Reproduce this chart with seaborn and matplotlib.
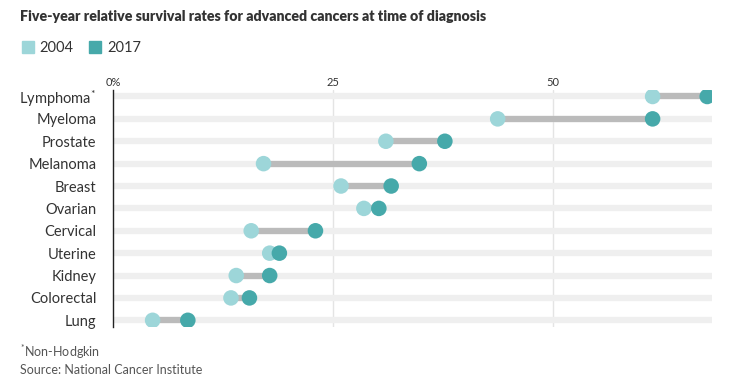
import pandas as pd
import matplotlib.pyplot as plt
import seaborn as sns
from matplotlib.lines import Line2D

# values (percent)
cancers = ['Lymphoma$^{*}$', 'Myeloma', 'Prostate', 'Melanoma', 'Breast', 'Ovarian',
           'Cervical', 'Uterine', 'Kidney', 'Colorectal', 'Lung']
rate_2004 = [61.3, 43.7, 31.0, 17.1, 25.9, 28.5, 15.7, 17.8, 14.0, 13.4, 4.5]
rate_2017 = [67.5, 61.3, 37.7, 34.8, 31.6, 30.2, 23.0, 18.9, 17.8, 15.5, 8.5]
years = ['2004', '2017']
xticks = [0, 25, 50]
xticklabels = ['0%', '25', '50']

c04 = '#9dd6d9'
c17 = '#46a9aa'
txt = '#333333'

df = pd.DataFrame({'cancer': cancers, '2004': rate_2004, '2017': rate_2017})
long = df.melt(id_vars='cancer', value_vars=years, var_name='year', value_name='rate')

sns.set_style('white')
plt.rcParams['font.family'] = ['Lato', 'DejaVu Sans']
plt.rcParams['mathtext.default'] = 'regular'

fig = plt.figure(figsize=(7.41, 3.87), dpi=100)
ax = fig.add_axes([0.1525, 0.155, 0.809, 0.613])

ypos = list(range(len(cancers)))
# background tracks
ax.hlines(ypos, 0, 68.1, color='#efefef', lw=4.5, zorder=1)
for t in xticks[1:]:
    ax.axvline(t, color='#e4e4e4', lw=1, zorder=0.5)
# connectors
ax.hlines(ypos, df['2004'], df['2017'], color='#bbbbbb', lw=4.5, zorder=2)

sns.scatterplot(data=long, x='rate', y='cancer', hue='year', hue_order=years,
                palette=[c04, c17], s=125, edgecolor='none', legend=False,
                zorder=3, ax=ax)

ax.set_xlim(0, 68.1)
ax.set_ylim(10.3, -0.3)
ax.set_xlabel('')
ax.set_ylabel('')
ax.xaxis.tick_top()
ax.set_xticks(xticks)
ax.set_xticklabels(xticklabels, fontsize=8, color=txt)
ax.tick_params(axis='x', length=0, pad=1.5)
ax.tick_params(axis='y', length=0, pad=12, labelsize=10.5, labelcolor=txt)
for s in ['top', 'right', 'bottom']:
    ax.spines[s].set_visible(False)
ax.spines['left'].set_color('#222222')
ax.spines['left'].set_linewidth(1)

fig.text(0.027, 0.957, 'Five-year relative survival rates for advanced cancers at time of diagnosis',
         fontsize=10.2, fontweight='heavy', color=txt, va='center')

handles = [Line2D([], [], marker='s', ls='', color=c, markersize=9) for c in [c04, c17]]
fig.legend(handles, years, loc='center left', bbox_to_anchor=(0.01, 0.875), ncol=2,
           frameon=False, fontsize=10.5, handletextpad=0.3, columnspacing=1.0,
           handlelength=1.0, labelcolor=txt)

fig.text(0.027, 0.09, '$^{*}$Non-Hodgkin', fontsize=9, color='#555555', va='center')
fig.text(0.027, 0.043, 'Source: National Cancer Institute', fontsize=9, color='#555555', va='center')

fig.savefig('out.png', dpi=100)
